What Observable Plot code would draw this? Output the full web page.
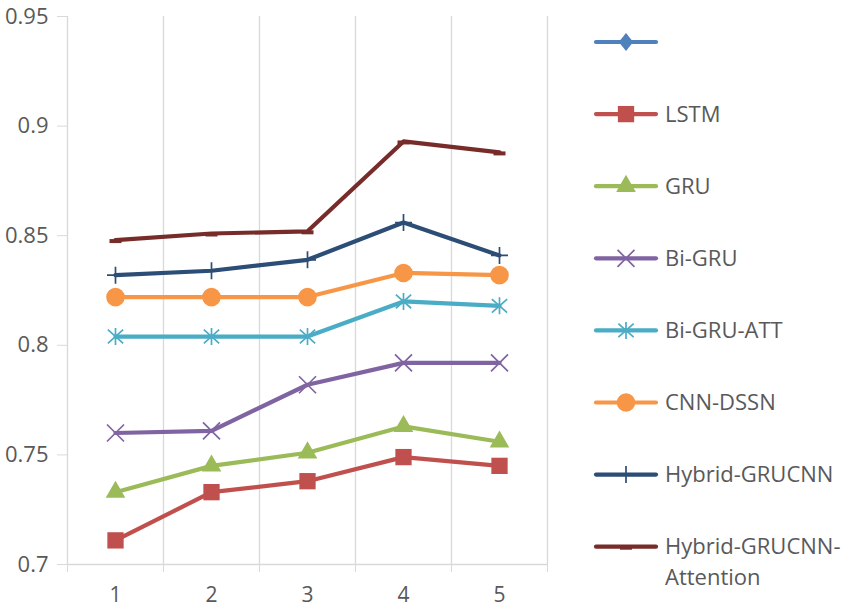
<!DOCTYPE html>
<html>
<head>
<meta charset="utf-8">
<script src="https://cdn.jsdelivr.net/npm/d3@7"></script>
<script src="https://cdn.jsdelivr.net/npm/@observablehq/plot@0.6"></script>
<style>
  body { margin: 0; background: #fff; }
</style>
</head>
<body>
<div id="chart"></div>
<script>
// ---- data ----
const categories = [1, 2, 3, 4, 5];
const yTicks = [0.7, 0.75, 0.8, 0.85, 0.9, 0.95];
const seriesNames = ["", "LSTM", "GRU", "Bi-GRU", "Bi-GRU-ATT", "CNN-DSSN", "Hybrid-GRUCNN", "Hybrid-GRUCNN-Attention"];
const seriesColors = ["#4F81BD", "#C0504D", "#9BBB59", "#8064A2", "#4BACC6", "#F79646", "#2C4D75", "#772C2A"];
const blankSeries = [];
const lstm = [0.711, 0.733, 0.738, 0.749, 0.745];
const gru = [0.733, 0.745, 0.751, 0.763, 0.756];
const biGru = [0.760, 0.761, 0.782, 0.792, 0.792];
const biGruAtt = [0.804, 0.804, 0.804, 0.820, 0.818];
const cnnDssn = [0.822, 0.822, 0.822, 0.833, 0.832];
const hybrid = [0.832, 0.834, 0.839, 0.856, 0.841];
const hybridAtt = [0.848, 0.851, 0.852, 0.893, 0.888];
const seriesValues = [blankSeries, lstm, gru, biGru, biGruAtt, cnnDssn, hybrid, hybridAtt];

// ---- custom symbols (half-extent = sqrt(size/PI)) ----
const R = s => Math.sqrt(s / Math.PI);
const symTimes = {draw(c, s) { const r = R(s); c.moveTo(-r, -r); c.lineTo(r, r); c.moveTo(-r, r); c.lineTo(r, -r); }};
const symAsterisk = {draw(c, s) { const r = R(s); const u = r * 0.9, t = r * 0.8;
  c.moveTo(-u, -t); c.lineTo(u, t); c.moveTo(-u, t); c.lineTo(u, -t); c.moveTo(0, -r); c.lineTo(0, r); }};
const symPlus = {draw(c, s) { const r = R(s); c.moveTo(-r, 0); c.lineTo(r, 0); c.moveTo(0, -r); c.lineTo(0, r); }};
const symDash = {draw(c, s) { const r = R(s); c.moveTo(-r, -1); c.lineTo(r, -1); c.lineTo(r, 3); c.lineTo(-r, 3); c.closePath(); }};
const symDiamond = {draw(c, s) { const r = R(s); c.moveTo(0, -r); c.lineTo(r * 0.8, 0); c.lineTo(0, r); c.lineTo(-r * 0.8, 0); c.closePath(); }};

const markerSpec = [
  {symbol: symDiamond, r: 9, filled: true},
  {symbol: d3.symbolSquare, r: 9.2, filled: true},
  {symbol: d3.symbolTriangle, r: 7.3, filled: true},
  {symbol: symTimes, r: 8.5, filled: false},
  {symbol: symAsterisk, r: 8.5, filled: false},
  {symbol: d3.symbolCircle, r: 9.3, filled: true},
  {symbol: symPlus, r: 8.5, filled: false},
  {symbol: symDash, r: 6, filled: true}
];

const gridPositions = [1.5, 2.5, 3.5, 4.5, 5.5];
const tickPositions = [0.5, 1.5, 2.5, 3.5, 4.5, 5.5];
const gridColor = "#d9d9d9";
const textColor = "#595959";

const marks = [
  Plot.ruleX(gridPositions, {stroke: gridColor, strokeWidth: 1.3}),
  Plot.ruleX([0.5], {stroke: gridColor, strokeWidth: 1.3}),
  Plot.ruleY([0.7], {stroke: gridColor, strokeWidth: 1.3}),
  Plot.axisY({ticks: yTicks, tickSize: 10, tickPadding: 9, stroke: gridColor, fill: textColor,
    tickFormat: d => String(d), label: null, fontSize: 22}),
  Plot.axisX({ticks: tickPositions, tickSize: 8, stroke: gridColor, tickFormat: () => "", label: null}),
  Plot.axisX({ticks: categories, tickSize: 0, tickPadding: 23, fill: textColor, tickFormat: d => String(d), label: null, fontSize: 21})
];

seriesNames.forEach((name, i) => {
  const vals = seriesValues[i];
  if (!vals.length) return;
  const rows = categories.map((c, j) => ({cat: c, value: vals[j], series: name}));
  const m = markerSpec[i];
  marks.push(Plot.line(rows, {x: "cat", y: "value", stroke: seriesColors[i], strokeWidth: 4.2, strokeLinejoin: "round", strokeLinecap: "round"}));
  marks.push(Plot.dot(rows, {x: "cat", y: "value", symbol: () => m.symbol, r: m.r,
    fill: m.filled ? seriesColors[i] : "none",
    stroke: m.filled ? "none" : seriesColors[i], strokeWidth: 1.7}));
});

const svg = Plot.plot({
  width: 851,
  height: 610,
  marginLeft: 67,
  marginRight: 304,
  marginTop: 16,
  marginBottom: 46,
  x: {type: "linear", domain: [0.5, 5.5]},
  y: {domain: [0.7, 0.95]},
  symbol: {type: "identity"},
  style: {fontFamily: "'Open Sans', sans-serif", fontSize: "21px", color: textColor, background: "white"},
  marks
});

// ---- legend on the right ----
const lg = d3.select(svg).append("g")
  .attr("font-family", "'Open Sans', sans-serif").attr("font-size", 22)
  .attr("fill", textColor).attr("text-anchor", "start");
seriesNames.forEach((name, i) => {
  const cy = 42 + i * 72.1;
  const m = markerSpec[i];
  const g = lg.append("g").attr("transform", `translate(0,${cy})`);
  g.append("line").attr("x1", 596).attr("x2", 656).attr("y1", 0).attr("y2", 0)
    .attr("stroke", seriesColors[i]).attr("stroke-width", 4.2).attr("stroke-linecap", "round");
  g.append("path").attr("transform", "translate(626,0)")
    .attr("d", d3.symbol(m.symbol, Math.PI * m.r * m.r)())
    .attr("fill", m.filled ? seriesColors[i] : "none")
    .attr("stroke", m.filled ? "none" : seriesColors[i]).attr("stroke-width", 1.7);
  if (name === "Hybrid-GRUCNN-Attention") {
    g.append("text").attr("x", 665).attr("y", 0).attr("dy", "0.35em").text("Hybrid-GRUCNN-");
    g.append("text").attr("x", 665).attr("y", 31).attr("dy", "0.35em").text("Attention");
  } else if (name) {
    g.append("text").attr("x", 665).attr("y", 0).attr("dy", "0.35em").text(name);
  }
});

document.getElementById("chart").appendChild(svg);
</script>
</body>
</html>
